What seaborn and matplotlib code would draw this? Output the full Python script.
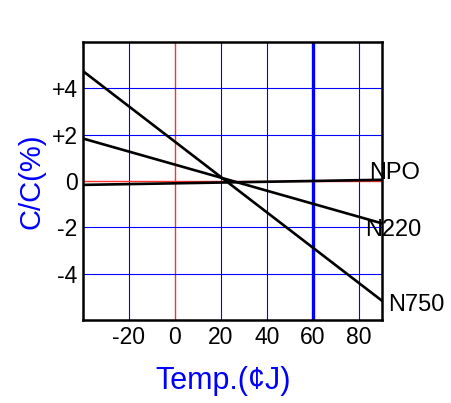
import seaborn as sns
import matplotlib.pyplot as plt
import pandas as pd

# values
temps = [-40, 90]
npo = [-0.17, 0.05]
n220 = [1.83, -1.83]
n750 = [4.74, -5.17]
series_names = ['NPO', 'N220', 'N750']

x_ticks = [-20, 0, 20, 40, 60, 80]
x_tick_labels = ['-20', '0', '20', '40', '60', '80']
y_ticks = [4, 2, 0, -2, -4]
y_tick_labels = ['+4', '+2', '0', '-2', '-4']

df = pd.DataFrame({
    'Temp': temps * 3,
    'Value': npo + n220 + n750,
    'Type': [n for n in series_names for _ in temps],
})

sns.set_style('white')
plt.rcParams['font.family'] = ['Liberation Sans', 'DejaVu Sans']
plt.rcParams['text.color'] = 'black'
plt.rcParams['xtick.color'] = 'black'
plt.rcParams['ytick.color'] = 'black'

fig = plt.figure(figsize=(4.51, 4.03), dpi=100)
ax = fig.add_axes([0.184, 0.206, 0.663, 0.690])

# grid
for x in x_ticks:
    if x == 0:
        ax.axvline(x, color='#ff3030', lw=1.0, zorder=1)
    elif x == 60:
        ax.axvline(x, color='blue', lw=2.4, zorder=1)
    else:
        ax.axvline(x, color='blue', lw=0.8, zorder=1)
for y in y_ticks:
    if y == 0:
        ax.axhline(y, color='#ff3030', lw=1.0, zorder=1)
    else:
        ax.axhline(y, color='blue', lw=0.8, zorder=1)

sns.lineplot(data=df, x='Temp', y='Value', hue='Type', palette=['black'] * 3,
             linewidth=1.9, legend=False, ax=ax, zorder=3)

ax.set_xlim(-40, 90)
ax.set_ylim(-6, 6)
ax.set_xticks(x_ticks)
ax.set_xticklabels(x_tick_labels)
ax.set_yticks(y_ticks)
ax.set_yticklabels(y_tick_labels)
ax.tick_params(length=0, labelsize=16.5, pad=4, labelcolor='black')

for s in ax.spines.values():
    s.set_color('black')
    s.set_linewidth(1.8)

ax.set_xlabel('Temp.(¢J)', fontsize=22, color='blue')
ax.xaxis.set_label_coords(0.47, -0.165)
ax.set_ylabel('C/C(%)', fontsize=21, color='blue', labelpad=4)

# series labels at the right end
ax.text(84.5, 0.35, 'NPO', fontsize=17, va='center', ha='left', clip_on=False)
ax.text(82.5, -2.1, 'N220', fontsize=17, va='center', ha='left', clip_on=False)
ax.text(92.5, -5.35, 'N750', fontsize=17, va='center', ha='left', clip_on=False)

fig.savefig('out.png', dpi=100)
